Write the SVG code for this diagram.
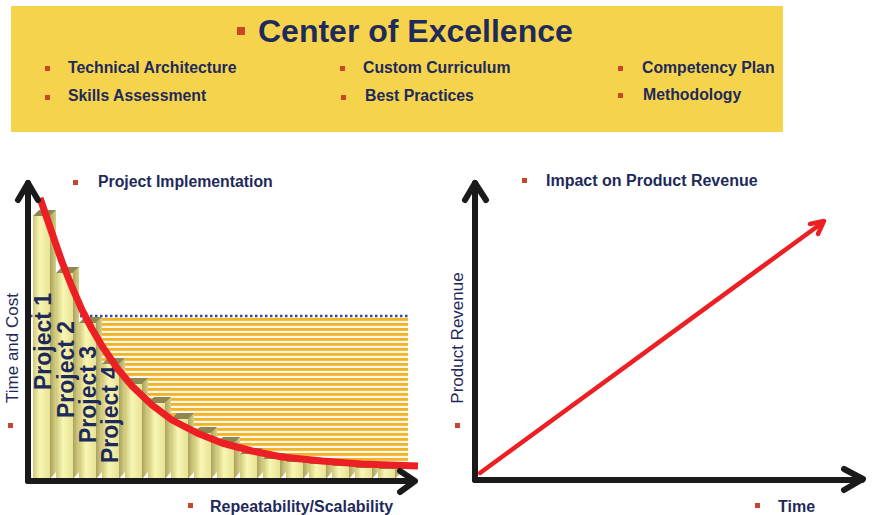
<svg xmlns="http://www.w3.org/2000/svg" width="872" height="515" viewBox="0 0 872 515">
<style>
.t{font-family:"Liberation Sans",Arial,sans-serif;fill:#1e2a5a}
.b{font-weight:bold}
.bul{fill:#c8462a}
.ax{fill:none;stroke:#1a1a1a;stroke-width:6;stroke-linecap:round;stroke-linejoin:round}
.front{fill:url(#gf)}
.side{fill:url(#gs)}
.cap{fill:#8e8850}
</style>
<defs>
<linearGradient id="gf" x1="0" y1="0" x2="1" y2="0">
<stop offset="0" stop-color="#cfc878"/>
<stop offset="0.4" stop-color="#f8f6b4"/>
<stop offset="1" stop-color="#e8e294"/>
</linearGradient>
<linearGradient id="gs" x1="0" y1="0" x2="1" y2="0">
<stop offset="0" stop-color="#aaa25e"/>
<stop offset="1" stop-color="#d6d086"/>
</linearGradient>
<pattern id="stripes" x="0" y="318" width="10" height="5" patternUnits="userSpaceOnUse">
<rect width="10" height="5" fill="#faf6ec"/>
<rect width="10" height="2.8" fill="#f2b424"/>
</pattern>
</defs>

<g id="header">
<rect x="11" y="6" width="772" height="126" fill="#f6d34c"/>
<rect class="bul" x="237" y="27" width="8" height="8"/>
<text class="t b" x="258" y="42" font-size="32">Center of Excellence</text>
<rect class="bul" x="45" y="66" width="5" height="5"/>
<text class="t b" x="68" y="73" font-size="15.8">Technical Architecture</text>
<rect class="bul" x="45" y="95" width="5" height="5"/>
<text class="t b" x="68" y="101" font-size="15.8">Skills Assessment</text>
<rect class="bul" x="340" y="66" width="5" height="5"/>
<text class="t b" x="363" y="73" font-size="15.8">Custom Curriculum</text>
<rect class="bul" x="341" y="95" width="5" height="5"/>
<text class="t b" x="365" y="101" font-size="15.8">Best Practices</text>
<rect class="bul" x="618" y="66" width="5" height="5"/>
<text class="t b" x="642" y="73" font-size="15.8">Competency Plan</text>
<rect class="bul" x="618" y="93" width="5" height="5"/>
<text class="t b" x="643" y="100" font-size="15.8">Methodology</text>
</g>

<g id="left-chart">
<rect x="100" y="318" width="308" height="150" fill="url(#stripes)"/>
<line x1="30" y1="316" x2="408" y2="316" stroke="#3a4a9a" stroke-width="2.5" stroke-dasharray="2.5 2.5"/>
<g id="bars">
<g><rect class="front" x="33" y="216" width="17" height="263"/><polygon class="side" points="50,216 56,210 56,472 50,479"/><polygon class="cap" points="33,216 39,210 56,210 50,216"/></g>
<g><rect class="front" x="56" y="273" width="17" height="206"/><polygon class="side" points="73,273 79,267 79,472 73,479"/><polygon class="cap" points="56,273 62,267 79,267 73,273"/></g>
<g><rect class="front" x="79" y="323" width="17" height="156"/><polygon class="side" points="96,323 102,317 102,472 96,479"/><polygon class="cap" points="79,323 85,317 102,317 96,323"/></g>
<g><rect class="front" x="102" y="364" width="17" height="115"/><polygon class="side" points="119,364 125,358 125,472 119,479"/><polygon class="cap" points="102,364 108,358 125,358 119,364"/></g>
<g><rect class="front" x="125" y="384" width="17" height="95"/><polygon class="side" points="142,384 148,378 148,472 142,479"/><polygon class="cap" points="125,384 131,378 148,378 142,384"/></g>
<g><rect class="front" x="148" y="403" width="17" height="76"/><polygon class="side" points="165,403 171,397 171,472 165,479"/><polygon class="cap" points="148,403 154,397 171,397 165,403"/></g>
<g><rect class="front" x="171" y="419" width="17" height="60"/><polygon class="side" points="188,419 194,413 194,472 188,479"/><polygon class="cap" points="171,419 177,413 194,413 188,419"/></g>
<g><rect class="front" x="194" y="433" width="17" height="46"/><polygon class="side" points="211,433 217,427 217,472 211,479"/><polygon class="cap" points="194,433 200,427 217,427 211,433"/></g>
<g><rect class="front" x="217" y="443" width="17" height="36"/><polygon class="side" points="234,443 240,437 240,472 234,479"/><polygon class="cap" points="217,443 223,437 240,437 234,443"/></g>
<g><rect class="front" x="240" y="454" width="17" height="25"/><polygon class="side" points="257,454 263,448 263,472 257,479"/><polygon class="cap" points="240,454 246,448 263,448 257,454"/></g>
<g><rect class="front" x="263" y="459" width="17" height="20"/><polygon class="side" points="280,459 286,453 286,472 280,479"/><polygon class="cap" points="263,459 269,453 286,453 280,459"/></g>
<g><rect class="front" x="286" y="462" width="17" height="17"/><polygon class="side" points="303,462 309,456 309,472 303,479"/><polygon class="cap" points="286,462 292,456 309,456 303,462"/></g>
<g><rect class="front" x="309" y="464" width="17" height="15"/><polygon class="side" points="326,464 332,458 332,472 326,479"/><polygon class="cap" points="309,464 315,458 332,458 326,464"/></g>
<g><rect class="front" x="332" y="466" width="17" height="13"/><polygon class="side" points="349,466 355,460 355,472 349,479"/><polygon class="cap" points="332,466 338,460 355,460 349,466"/></g>
<g><rect class="front" x="355" y="468" width="17" height="11"/><polygon class="side" points="372,468 378,462 378,472 372,479"/><polygon class="cap" points="355,468 361,462 378,462 372,468"/></g>
<g><rect class="front" x="378" y="469" width="17" height="10"/><polygon class="side" points="395,469 401,463 401,472 395,479"/><polygon class="cap" points="378,469 384,463 401,463 395,469"/></g>
</g>
<g id="project-labels">
<text class="t b" font-size="23" transform="translate(51,390) rotate(-90)">Project 1</text>
<text class="t b" font-size="23" transform="translate(74,418) rotate(-90)">Project 2</text>
<text class="t b" font-size="23" transform="translate(96,443) rotate(-90)">Project 3</text>
<text class="t b" font-size="23" transform="translate(118,463) rotate(-90)">Project 4</text>
</g>
<path d="M40,198 L52,233 L62,262 L72,287 L82,310 L92,329 L102,346 L117,368 L132,386 L152,405 L172,420 L197,433 L222,443 L252,451 L282,457 L322,461 L362,464 L418,466" fill="none" stroke="#ec2024" stroke-width="7" stroke-linejoin="round"/>
<g id="left-axes">
<polyline class="ax" points="28,481 28,183"/>
<polyline class="ax" points="18,200 28,183 38,200"/>
<polyline class="ax" points="28,481 414,481"/>
<polyline class="ax" points="400,471 415,481 400,492"/>
</g>
<rect class="bul" x="73" y="180" width="5" height="5"/>
<text class="t b" x="98" y="187" font-size="15.8">Project Implementation</text>
<text class="t" font-size="17" text-anchor="middle" transform="translate(18,348) rotate(-90)">Time and Cost</text>
<rect class="bul" x="8" y="423" width="5" height="5"/>
<rect class="bul" x="188" y="503" width="5" height="5"/>
<text class="t b" x="210" y="512" font-size="16">Repeatability/Scalability</text>
</g>

<g id="right-chart">
<g id="right-axes">
<polyline class="ax" points="475,480 475,183"/>
<polyline class="ax" points="465,200 475,183 486,200"/>
<polyline class="ax" points="475,480 862,480"/>
<polyline class="ax" points="844,469 863,479 844,490"/>
</g>
<g id="revenue-line" fill="none" stroke="#ec2024" stroke-width="4.5" stroke-linecap="round" stroke-linejoin="round">
<line x1="480" y1="473" x2="822" y2="223"/>
<polyline points="810,224 824,221 818,234"/>
</g>
<rect class="bul" x="522" y="178" width="5" height="5"/>
<text class="t b" x="546" y="186" font-size="16">Impact on Product Revenue</text>
<text class="t" font-size="17" text-anchor="middle" transform="translate(463,338) rotate(-90)">Product Revenue</text>
<rect class="bul" x="455" y="423" width="5" height="5"/>
<rect class="bul" x="755" y="503" width="5" height="5"/>
<text class="t b" x="778" y="512" font-size="16">Time</text>
</g>
</svg>
